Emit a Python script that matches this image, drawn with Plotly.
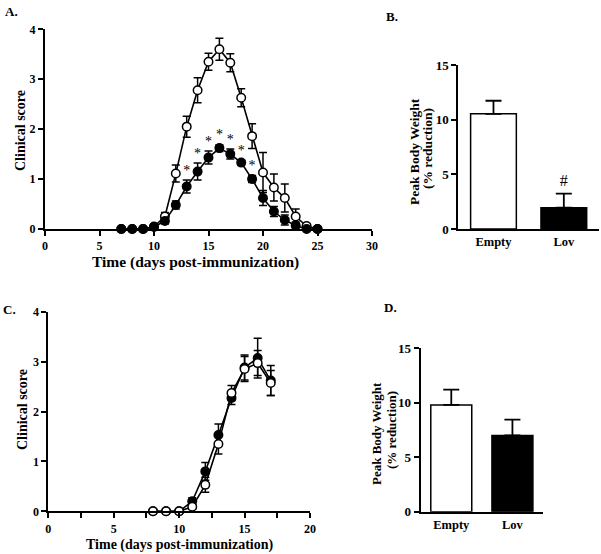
import plotly.graph_objects as go

W, H = 601, 554
FONT = "Liberation Serif"

# ---------------- data ----------------
# Panel A
days_a = list(range(7, 26))
empty_a = [0, 0, 0, 0.05, 0.25, 1.11, 2.05, 2.78, 3.35, 3.6, 3.33, 2.63, 1.86, 1.13, 0.83, 0.62, 0.25, 0.06, 0]
empty_a_err = [0, 0, 0, 0.03, 0.08, 0.17, 0.21, 0.25, 0.17, 0.22, 0.18, 0.18, 0.25, 0.4, 0.27, 0.28, 0.15, 0.04, 0]
lov_a = [0, 0, 0, 0.04, 0.16, 0.48, 0.85, 1.15, 1.43, 1.62, 1.5, 1.33, 1.0, 0.62, 0.35, 0.18, 0.07, 0, 0]
lov_a_err = [0, 0, 0, 0.02, 0.06, 0.08, 0.13, 0.17, 0.13, 0.07, 0.1, 0.05, 0.07, 0.15, 0.1, 0.1, 0.07, 0, 0]
sig_days_a = [13, 14, 15, 16, 17, 18, 19]

# Panel B
groups = ["Empty", "Lov"]
weight_b = [10.55, 1.95]
weight_b_err = [1.2, 1.3]

# Panel C
days_c = list(range(8, 18))
empty_c = [0, 0, 0, 0.09, 0.53, 1.35, 2.37, 2.85, 2.97, 2.57]
empty_c_err = [0, 0, 0, 0.05, 0.15, 0.2, 0.15, 0.25, 0.25, 0.25]
lov_c = [0, 0, 0, 0.2, 0.8, 1.53, 2.27, 2.88, 3.07, 2.62]
lov_c_err = [0, 0, 0, 0.07, 0.18, 0.22, 0.13, 0.25, 0.4, 0.3]

# Panel D
weight_d = [9.8, 7.0]
weight_d_err = [1.4, 1.45]


def px_x(p):
    return p / W


def px_y(p):
    return 1 - p / H


fig = go.Figure()


def series(x, y, err, fill, xa, ya):
    fig.add_trace(go.Scatter(
        x=x, y=y, mode="lines+markers", xaxis=xa, yaxis=ya, cliponaxis=False,
        line=dict(color="black", width=1.6),
        marker=dict(size=8.5, color=fill, line=dict(color="black", width=1.5)),
        error_y=dict(type="data", array=err, color="black", thickness=1.5, width=4),
        showlegend=False, hoverinfo="skip"))


# A: open drawn first, closed on top
series(days_a, empty_a, empty_a_err, "white", "x", "y")
series(days_a, lov_a, lov_a_err, "black", "x", "y")
star_y = [lov_a[days_a.index(d)] + lov_a_err[days_a.index(d)] + 0.18 for d in sig_days_a]
fig.add_trace(go.Scatter(x=sig_days_a, y=star_y, mode="text", text=["*"] * len(sig_days_a),
                         textfont=dict(family=FONT, size=14, color="#000000"), textposition="middle center",
                         xaxis="x", yaxis="y", cliponaxis=False, showlegend=False, hoverinfo="skip"))

# C: closed first, open on top
series(days_c, lov_c, lov_c_err, "black", "x3", "y3")
series(days_c, empty_c, empty_c_err, "white", "x3", "y3")


def bars(vals, errs, xa, ya, width):
    fig.add_trace(go.Bar(
        x=groups, y=vals, xaxis=xa, yaxis=ya, width=width,
        marker=dict(color=["white", "black"], line=dict(color="black", width=1.5)),
        error_y=dict(type="data", symmetric=False, array=errs, arrayminus=[0, 0],
                     color="black", thickness=1.8, width=8),
        showlegend=False, hoverinfo="skip"))


bars(weight_b, weight_b_err, "x2", "y2", 0.65)
bars(weight_d, weight_d_err, "x4", "y4", 0.67)

# "#" over Lov in B
fig.add_trace(go.Scatter(x=["Lov"], y=[weight_b[1] + weight_b_err[1] + 1.05], mode="text", text=["#"],
                         textfont=dict(family=FONT, size=16, color="#000000"), xaxis="x2", yaxis="y2",
                         cliponaxis=False, showlegend=False, hoverinfo="skip"))

tick_font = dict(family=FONT, size=12, color="black", weight="bold")
tick_font_b = dict(family=FONT, size=13, color="black", weight="bold")
base = dict(showline=True, linewidth=2, linecolor="black", showgrid=False, zeroline=False,
            ticks="outside", ticklen=5, tickwidth=2, tickcolor="black", fixedrange=True,
            automargin=False)

fig.update_layout(
    template="none",
    width=W, height=H, margin=dict(l=0, r=0, t=0, b=0, pad=0),
    paper_bgcolor="white", plot_bgcolor="white",
    font=dict(family=FONT, color="black"),
    xaxis=dict(**base, domain=[px_x(45), px_x(372)], range=[0, 30], tick0=0, dtick=5,
               tickfont=tick_font, anchor="y"),
    yaxis=dict(**base, domain=[px_y(229), px_y(29.3)], range=[0, 4], dtick=1,
               tickfont=tick_font, anchor="x"),
    xaxis2=dict(**{**base, "ticks": ""}, domain=[px_x(458.3), px_x(599)], range=[-0.5, 1.5],
                type="category", tickfont=dict(family=FONT, size=12.5, color="black", weight="bold"), anchor="y2"),
    yaxis2=dict(**base, domain=[px_y(229), px_y(65.3)], range=[0, 15], dtick=5,
                tickfont=tick_font_b, anchor="x2"),
    xaxis3=dict(**base, domain=[px_x(48.3), px_x(310)], range=[0, 20], tick0=0, dtick=5,
                minor=dict(dtick=2.5, ticks="outside", ticklen=5, tickwidth=2, tickcolor="black"),
                tickfont=tick_font, anchor="y3"),
    yaxis3=dict(**base, domain=[px_y(511.3), px_y(311.7)], range=[0, 4], dtick=1,
                tickfont=tick_font, anchor="x3"),
    xaxis4=dict(**{**base, "ticks": ""}, domain=[px_x(420.7), px_x(543)], range=[-0.5, 1.5],
                type="category", tickfont=dict(family=FONT, size=12.5, color="black", weight="bold"), anchor="y4"),
    yaxis4=dict(**base, domain=[px_y(511.7), px_y(348.3)], range=[0, 15], dtick=5,
                tickfont=tick_font_b, anchor="x4"),
)


def ann(text, x, y, size, angle=0):
    fig.add_annotation(text=text, x=px_x(x), y=px_y(y), xref="paper", yref="paper",
                       showarrow=False, textangle=angle, xanchor="center", yanchor="middle",
                       font=dict(family=FONT, size=size, color="black", weight="bold"))


ann("A.", 11, 12, 13)
ann("B.", 392, 17, 13)
ann("C.", 9, 309, 13)
ann("D.", 390, 307, 13)

ann("Clinical score", 20, 131, 14, -90)
ann("Time (days post-immunization)", 195, 261.5, 15.5)
ann("Clinical score", 22, 410, 14, -90)
ann("Time (days post-immunization)", 180, 544.5, 14)

ann("Peak Body Weight", 414, 152, 13.5, -90)
ann("(% reduction)", 427, 149, 13.5, -90)
ann("Peak Body Weight", 376, 434, 13, -90)
ann("(% reduction)", 391, 430, 13, -90)

fig.write_html("out.html", config={"displayModeBar": False},
               post_script="document.body.style.margin='0px';document.body.style.overflow='hidden';")
